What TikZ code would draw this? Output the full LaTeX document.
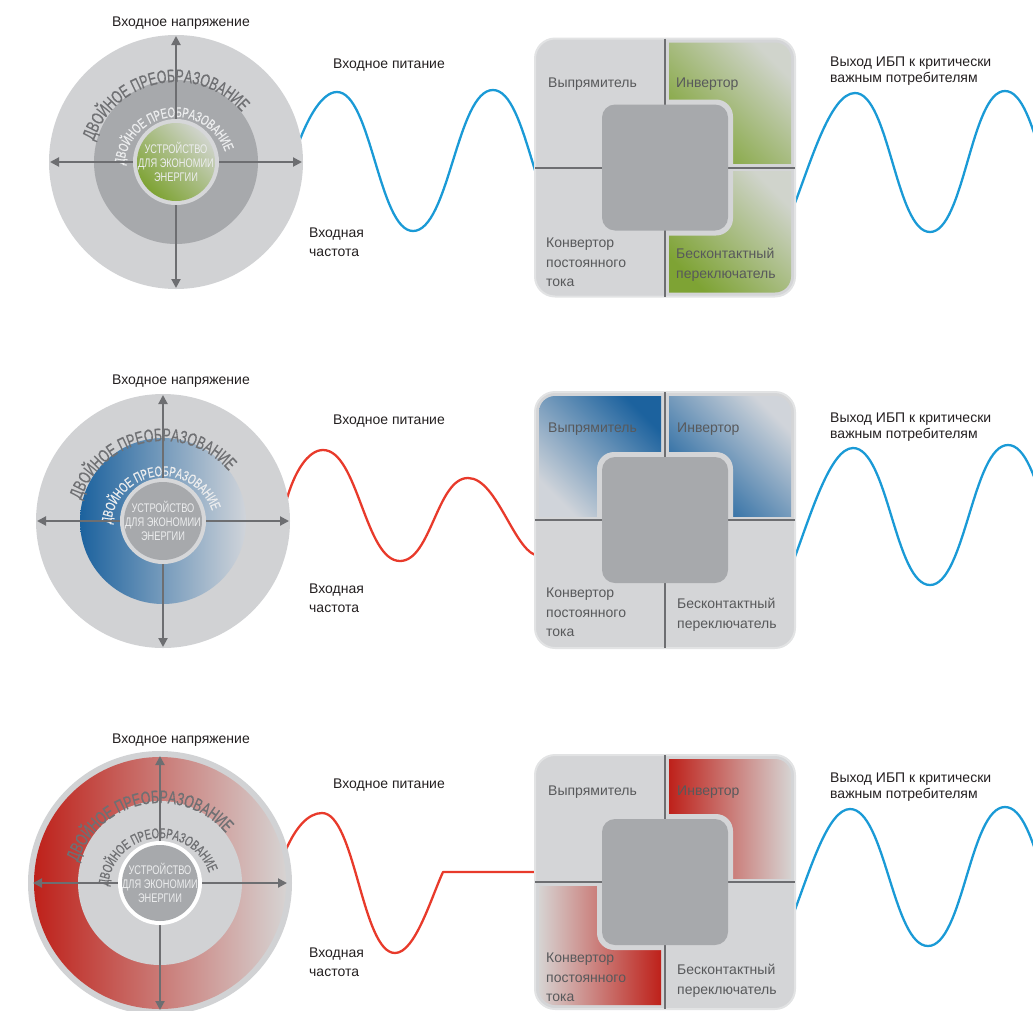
\documentclass[tikz,border=0pt]{standalone}
\usepackage{fontspec}
\setmainfont{Liberation Sans}
\newfontfamily\condfont[FakeStretch=0.74]{Liberation Sans}
\newfontfamily\ringfont[FakeStretch=0.68,FakeBold=0.6]{Liberation Sans}
\usetikzlibrary{arrows.meta,decorations.text}

\definecolor{ringgray}{RGB}{209,210,212}
\definecolor{midgray}{RGB}{167,169,172}
\definecolor{boxgray}{RGB}{212,213,215}
\definecolor{boxrim}{RGB}{226,227,228}
\definecolor{sqgray}{RGB}{167,169,172}
\definecolor{coreedge}{RGB}{214,215,217}
\definecolor{linegray}{RGB}{109,110,113}
\definecolor{ringtext}{RGB}{111,112,115}
\definecolor{whitish}{RGB}{236,237,238}
\definecolor{labelgray}{RGB}{88,89,91}
\definecolor{labelblack}{RGB}{35,31,32}
\definecolor{waveblue}{RGB}{26,154,214}
\definecolor{wavered}{RGB}{232,58,43}
\definecolor{greendark}{RGB}{126,163,52}
\definecolor{greenlight}{RGB}{208,212,204}
\definecolor{bluedark}{RGB}{28,98,158}
\definecolor{bluelight}{RGB}{208,212,218}
\definecolor{reddark}{RGB}{190,33,26}
\definecolor{redlight}{RGB}{214,211,210}

\newcommand\ringbig{\ringfont\fontsize{18}{18}\selectfont}
\newcommand\ringsmall{\ringfont\fontsize{14}{14}\selectfont}

\begin{document}
\begin{tikzpicture}[x=1pt,y=1pt,
  axis/.style={draw=linegray, line width=2,
    {Triangle[length=9pt,width=9pt]}-{Triangle[length=9pt,width=9pt]}},
  divider/.style={draw=linegray, line width=2},
  wave/.style={line width=2.3, line join=round},
  label/.style={anchor=north west, inner sep=0, align=left, text=labelblack,
    font=\fontsize{14}{19}\selectfont},
  boxlabel/.style={anchor=north west, inner sep=0, align=left, text=labelgray,
    font=\fontsize{14}{19.5}\selectfont},
  coretext/.style={inner sep=0, align=center, text=whitish,
    font=\condfont\fontsize{12.5}{14}\selectfont}]
  \useasboundingbox (0,0) rectangle (1033,-1010);

  % waves
  \draw[wave, waveblue] (299,-142) .. controls (308,-118) and (322,-92) .. (337,-92)
    .. controls (371,-92) and (379,-231) .. (413,-231)
    .. controls (449,-231) and (457,-90) .. (493,-90)
    .. controls (528,-90) and (536,-231) .. (571,-231);
  \draw[wave, waveblue] (793,-208) .. controls (810,-165) and (830,-93) .. (855,-93)
    .. controls (889,-93) and (896,-232) .. (930,-232)
    .. controls (964,-232) and (971,-91) .. (1005,-91)
    .. controls (1039,-91) and (1046,-230) .. (1080,-230);
  \draw[wave, wavered] (286,-502) .. controls (294,-472) and (308,-450) .. (323,-450)
    .. controls (358,-450) and (365,-561) .. (400,-561)
    .. controls (431,-561) and (437,-478) .. (468,-478)
    .. controls (498,-478) and (515,-556) .. (540,-556);
  \draw[wave, waveblue] (793,-562) .. controls (810,-517) and (830,-448) .. (853,-448)
    .. controls (888,-448) and (895,-585) .. (930,-585)
    .. controls (965,-585) and (973,-445) .. (1008,-445)
    .. controls (1043,-445) and (1050,-585) .. (1085,-585);
  \draw[wave, wavered] (285,-852) .. controls (295,-828) and (308,-813) .. (322,-813)
    .. controls (355,-813) and (362,-953) .. (395,-953)
    .. controls (415,-953) and (431,-898) .. (443,-872) -- (540,-872);
  \draw[wave, waveblue] (793,-915) .. controls (810,-870) and (828,-809) .. (850,-809)
    .. controls (885,-809) and (893,-946) .. (928,-946)
    .. controls (963,-946) and (970,-807) .. (1005,-807)
    .. controls (1040,-807) and (1047,-946) .. (1082,-946);

  % row 1: circle
  \begin{scope}[shift={(176,-162)}]
    \fill[ringgray] (0,0) circle[radius=127];
    \fill[midgray] (0,0) circle[radius=82];
    \path[decorate, decoration={text along path, text align=center,
      text={|\ringbig\color{ringtext}|ДВОЙНОЕ ПРЕОБРАЗОВАНИЕ}}]
      ([shift={(171:87)}]0,-7) arc[start angle=171, end angle=31, radius=87];
    \path[decorate, decoration={text along path, text align=center,
      text={|\ringsmall\color{whitish}|ДВОЙНОЕ ПРЕОБРАЗОВАНИЕ}}]
      ([shift={(185:52)}]0,-7) arc[start angle=185, end angle=10, radius=52];
    \draw[axis] (-126,0) -- (126,0);
    \draw[axis] (0,126) -- (0,-126);
    \fill[coreedge] (0,0) circle[radius=43];
    \shade[top color=greenlight, bottom color=greendark, shading angle=-45]
      (0,0) circle[radius=39];
    \node[coretext] (core1) at (0,0) {УСТРОЙСТВО\\ДЛЯ ЭКОНОМИИ\\ЭНЕРГИИ};
  \end{scope}

  % row 1: box
  \begin{scope}[shift={(665,-167.5)}]
    \fill[boxgray, draw=boxrim, line width=2, rounded corners=20]
      (-130,-129) rectangle (130,129);
    \begin{scope}
      \clip[rounded corners=16] (-126,-125) rectangle (126,125);
      \shade[top color=greenlight, bottom color=greendark, shading angle=-45]
        (4,4) rectangle (126,125);
      \shade[top color=greenlight, bottom color=greendark, shading angle=-45]
        (4,-4) rectangle (126,-125);
    \end{scope}
    \fill[boxgray, rounded corners=17] (-68,-68) rectangle (68,68);
    \draw[divider] (0,129) -- (0,-129);
    \draw[divider] (-130,0) -- (130,0);
    \fill[sqgray, rounded corners=13] (-63,-63) rectangle (63,63);
    \node[boxlabel] (rect1) at (-117,89.5) {Выпрямитель};
    \node[boxlabel] (inv1) at (11,89.5) {Инвертор};
    \node[boxlabel] (dcc1) at (-119,-70.5) {Конвертор\\постоянного\\тока};
    \node[boxlabel] (sw1) at (11,-80.5) {Бесконтактный\\переключатель};
  \end{scope}

  \node[label, anchor=north] (volt1) at (181,-17) {Входное напряжение};
  \node[label] (pwr1) at (333,-59) {Входное питание};
  \node[label] (freq1) at (309,-228) {Входная\\частота};
  \node[label, font=\fontsize{14}{15.7}\selectfont] (out1) at (830,-57)
    {Выход ИБП к критически\\важным потребителям};

  % row 2: circle
  \begin{scope}[shift={(163,-521)}]
    \fill[ringgray] (0,0) circle[radius=127];
    \shade[left color=bluedark, right color=bluelight] (0,0) circle[radius=83];
    \path[decorate, decoration={text along path, text align=center,
      text={|\ringbig\color{ringtext}|ДВОЙНОЕ ПРЕОБРАЗОВАНИЕ}}]
      ([shift={(171:87)}]0,-7) arc[start angle=171, end angle=31, radius=87];
    \path[decorate, decoration={text along path, text align=center,
      text={|\ringsmall\color{whitish}|ДВОЙНОЕ ПРЕОБРАЗОВАНИЕ}}]
      ([shift={(185:52)}]0,-7) arc[start angle=185, end angle=10, radius=52];
    \draw[axis] (-126,0) -- (126,0);
    \draw[axis] (0,126) -- (0,-126);
    \fill[coreedge] (0,0) circle[radius=43];
    \fill[sqgray] (0,0) circle[radius=39];
    \node[coretext] (core2) at (0,0) {УСТРОЙСТВО\\ДЛЯ ЭКОНОМИИ\\ЭНЕРГИИ};
  \end{scope}

  % row 2: box
  \begin{scope}[shift={(665,-520)}]
    \fill[boxgray, draw=boxrim, line width=2, rounded corners=20]
      (-130,-128) rectangle (130,128);
    \begin{scope}
      \clip[rounded corners=16] (-126,-124) rectangle (126,124);
      \shade[top color=bluedark, bottom color=bluelight, shading angle=-45]
        (-4,4) rectangle (-126,124);
      \shade[top color=bluelight, bottom color=bluedark, shading angle=-45]
        (4,4) rectangle (126,124);
    \end{scope}
    \fill[boxgray, rounded corners=17] (-68,-68) rectangle (68,68);
    \draw[divider] (0,128) -- (0,-128);
    \draw[divider] (-130,0) -- (130,0);
    \fill[sqgray, rounded corners=13] (-63,-63) rectangle (63,63);
    \node[boxlabel] (rect2) at (-117,97.3) {Выпрямитель};
    \node[boxlabel] (inv2) at (12,97.3) {Инвертор};
    \node[boxlabel] (dcc2) at (-119,-68) {Конвертор\\постоянного\\тока};
    \node[boxlabel] (sw2) at (12,-78) {Бесконтактный\\переключатель};
  \end{scope}

  \node[label, anchor=north] (volt2) at (181,-375) {Входное напряжение};
  \node[label] (pwr2) at (333,-415) {Входное питание};
  \node[label] (freq2) at (309,-584) {Входная\\частота};
  \node[label, font=\fontsize{14}{15.7}\selectfont] (out2) at (830,-413)
    {Выход ИБП к критически\\важным потребителям};

  % row 3: circle
  \begin{scope}[shift={(160,-883)}]
    \fill[ringgray] (0,0) circle[radius=132];
    \shade[left color=reddark, middle color=reddark!35!redlight, right color=redlight]
      (0,0) circle[radius=126];
    \fill[ringgray] (0,0) circle[radius=82];
    \path[decorate, decoration={text along path, text align=center,
      text={|\ringbig\color{ringtext}|ДВОЙНОЕ ПРЕОБРАЗОВАНИЕ}}]
      ([shift={(171:87)}]0,-7) arc[start angle=171, end angle=31, radius=87];
    \path[decorate, decoration={text along path, text align=center,
      text={|\ringsmall\color{ringtext}|ДВОЙНОЕ ПРЕОБРАЗОВАНИЕ}}]
      ([shift={(185:52)}]0,-7) arc[start angle=185, end angle=10, radius=52];
    \draw[axis] (-127,0) -- (127,0);
    \draw[axis] (0,127) -- (0,-127);
    \fill[white] (0,0) circle[radius=42];
    \fill[sqgray] (0,0) circle[radius=38];
    \node[coretext] (core3) at (0,0) {УСТРОЙСТВО\\ДЛЯ ЭКОНОМИИ\\ЭНЕРГИИ};
  \end{scope}

  % row 3: box
  \begin{scope}[shift={(665,-882)}]
    \fill[boxgray, draw=boxrim, line width=2, rounded corners=20]
      (-130,-127) rectangle (130,127);
    \begin{scope}
      \clip[rounded corners=16] (-126,-123) rectangle (126,123);
      \shade[left color=reddark, right color=redlight] (4,4) rectangle (126,123);
      \shade[left color=redlight, right color=reddark] (-4,-4) rectangle (-126,-123);
    \end{scope}
    \fill[boxgray, rounded corners=17] (-68,-68) rectangle (68,68);
    \draw[divider] (0,127) -- (0,-127);
    \draw[divider] (-130,0) -- (130,0);
    \fill[sqgray, rounded corners=13] (-63,-63) rectangle (63,63);
    \node[boxlabel] (rect3) at (-117,96) {Выпрямитель};
    \node[boxlabel] (inv3) at (12,96) {Инвертор};
    \node[boxlabel] (dcc3) at (-119,-71) {Конвертор\\постоянного\\тока};
    \node[boxlabel] (sw3) at (12,-82) {Бесконтактный\\переключатель};
  \end{scope}

  \node[label, anchor=north] (volt3) at (181,-734) {Входное напряжение};
  \node[label] (pwr3) at (333,-779) {Входное питание};
  \node[label] (freq3) at (309,-948) {Входная\\частота};
  \node[label, font=\fontsize{14}{15.7}\selectfont] (out3) at (830,-773)
    {Выход ИБП к критически\\важным потребителям};
\end{tikzpicture}
\end{document}
